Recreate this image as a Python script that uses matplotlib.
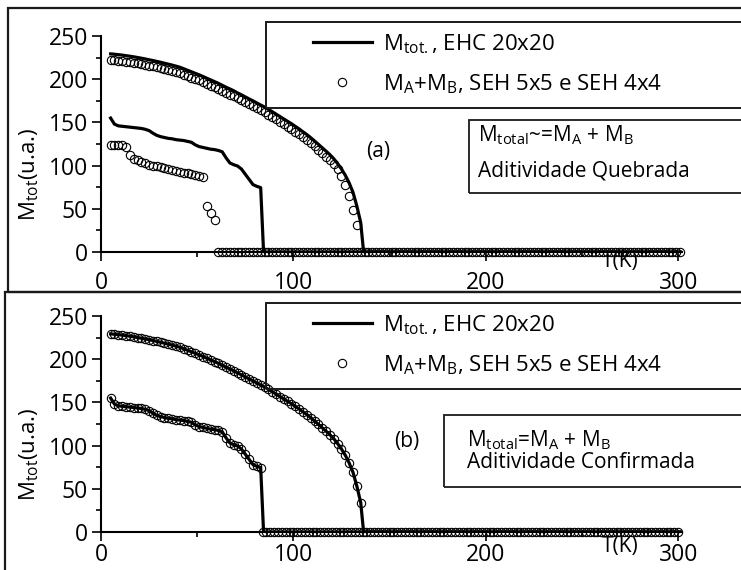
import numpy as np
import matplotlib.pyplot as plt
from matplotlib.lines import Line2D
from matplotlib.patches import Rectangle

plt.rcParams['font.family'] = 'Open Sans'
plt.rcParams['mathtext.fontset'] = 'custom'
plt.rcParams['mathtext.rm'] = 'Open Sans'
plt.rcParams['mathtext.default'] = 'regular'

# temperature sweeps (K)
t_hi = np.arange(5, 137, 2)       # 5 .. 135
t_lo = np.arange(5, 85, 2)        # 5 .. 83
t_hi_a = np.arange(5, 135, 2)     # 5 .. 133
t_lo_a = np.arange(5, 61, 2)      # 5 .. 59
t_end = 301
tc_hi = 136.5
tc_lo = 84.5

# M_tot, EHC 20x20 (upper and lower branch)
m_hi = [229.3, 228.9, 228.4, 227.9, 227.2, 226.6, 225.9, 225.1, 224.3, 223.4,
        222.5, 221.6, 220.6, 219.6, 218.5, 217.4, 216.3, 215.1, 213.8, 212.1,
        210.3, 208.6, 206.8, 205.1, 203.1, 201.1, 199.2, 197.2, 195.2, 193.0,
        190.7, 188.7, 186.6, 184.1, 181.9, 179.5, 177.2, 174.9, 172.5, 170.1,
        167.8, 165.1, 162.4, 159.6, 156.8, 154.0, 151.2, 148.5, 145.4, 142.4,
        139.1, 135.9, 132.3, 128.5, 124.6, 120.6, 116.7, 112.6, 107.9, 102.3,
        96.0, 88.8, 79.9, 69.0, 53.0, 34.0]
m_lo = [155, 148, 146, 145.5, 145, 144.5, 144, 143.5, 143, 142,
        140.5, 137.5, 135, 133.5, 132.5, 131.5, 131, 130, 129.5, 129,
        128, 127, 124, 122, 121, 120, 119, 118.5, 117.5, 116,
        109, 103, 101, 99.5, 96, 90, 84, 78, 76, 74.5]

# M_A + M_B, SEH 5x5 e SEH 4x4 for the broken-additivity case
m_hi_a = [222.3, 221.9, 221.5, 221.0, 220.3, 219.7, 219.0, 218.2, 217.5, 216.6,
          215.7, 214.8, 213.8, 212.8, 211.8, 210.7, 209.6, 208.2, 207.1, 205.4,
          203.6, 201.9, 200.2, 198.5, 196.5, 194.5, 192.6, 190.6, 188.6, 186.5,
          184.2, 182.2, 180.2, 177.7, 175.5, 173.1, 170.8, 168.6, 166.2, 163.8,
          161.6, 158.9, 156.2, 153.5, 150.6, 147.9, 145.1, 142.4, 139.3, 136.4,
          133.1, 129.7, 125.8, 122.3, 118.5, 114.4, 110.4, 106.2, 101.4, 95.6,
          88.0, 78.0, 65.0, 49.0, 31.0]
m_lo_a = [124, 124, 124, 123.5, 122, 112, 108, 106, 104, 102.5,
          101, 100, 99, 98, 97, 96, 95, 94, 93, 92,
          91, 90, 89, 88, 87, 53, 45, 37]

W, H = 741, 570
fig = plt.figure(figsize=(W / 100, H / 100), dpi=100)


def fig_rect(x0, y0, x1, y1):
    return [x0 / W, 1 - y1 / H, (x1 - x0) / W, (y1 - y0) / H]


def frame(x0, y0, x1, y1, lw=1.6):
    fig.add_artist(Rectangle((x0 / W, 1 - y1 / H), (x1 - x0) / W, (y1 - y0) / H,
                             transform=fig.transFigure, fill=False,
                             lw=lw, ec='#1a1a1a'))


line_kw = dict(color='black', lw=2.3, solid_joinstyle='round')
circ_kw = dict(ls='none', marker='o', ms=6.0, mfc='none', mec='black', mew=0.8,
               clip_on=False)


def with_drop(t, m, tc):
    tt = np.concatenate([t, [tc, t_end]])
    mm = np.concatenate([m, [0, 0]])
    return tt, mm


def style_axes(ax, tk_y, xpad):
    ax.set_xlim(0, 302)
    ax.set_ylim(0, 250)
    for s in ['top', 'right']:
        ax.spines[s].set_visible(False)
    ax.spines['left'].set_linewidth(1.5)
    ax.spines['bottom'].set_linewidth(1.5)
    ax.set_xticks([0, 100, 200, 300])
    ax.set_xticks([50, 150, 250], minor=True)
    ax.set_yticks(np.arange(0, 251, 50))
    ax.set_yticks(np.arange(25, 250, 50), minor=True)
    ax.tick_params(which='major', length=6.5, width=1.2, labelsize=16.5, pad=3)
    ax.tick_params(which='minor', length=3.6, width=1.2)
    ax.tick_params(axis='x', which='major', pad=xpad)
    ax.patch.set_alpha(0)
    ax.set_ylabel('M$_{tot}$(u.a.)', fontsize=16)
    ax.yaxis.set_label_coords(-0.104, 0.36)
    ax.text(0.893, tk_y, 'T(K)', transform=ax.transAxes, fontsize=15,
            ha='center', va='center')


def legend_box(ax, top):
    frame(266, top, 800, top + 86, lw=1.4)
    handles = [Line2D([], [], **line_kw),
               Line2D([], [], **{k: v for k, v in circ_kw.items() if k != 'clip_on'})]
    labels = ['M$_{tot.}$, EHC 20x20', 'M$_{A}$+M$_{B}$, SEH 5x5 e SEH 4x4']
    ax.legend(handles, labels, loc='upper left',
              bbox_to_anchor=(313 / W, 1 - (top + 10) / H),
              bbox_transform=fig.transFigure, frameon=False, borderpad=0,
              borderaxespad=0, handlelength=2.65, handletextpad=0.5,
              labelspacing=0.75, fontsize=16)


# outer panel frames
frame(8, 8, 800, 292)
frame(5, 292, 800, 620)

# (a) additivity broken
ax_a = fig.add_axes(fig_rect(101, 36, 682, 252))
style_axes(ax_a, -0.044, 7)
ax_a.plot(*with_drop(t_hi, m_hi, tc_hi), **line_kw)
ax_a.plot(*with_drop(t_lo, m_lo, tc_lo), **line_kw)
ax_a.plot(t_hi_a, m_hi_a, **circ_kw)
ax_a.plot(t_lo_a, m_lo_a, **circ_kw)
t_zero_a = np.arange(61, t_end + 1, 2)
ax_a.plot(t_zero_a, np.zeros(len(t_zero_a)), **circ_kw)
legend_box(ax_a, 22)
ax_a.text(144, 116, '(a)', fontsize=15, ha='center', va='center')
frame(469, 120, 800, 193, lw=1.3)
fig.text(478 / W, 1 - 135 / H, 'M$_{total}$~=M$_{A}$ + M$_{B}$', fontsize=15, va='center')
fig.text(478 / W, 1 - 171 / H, 'Aditividade Quebrada', fontsize=15, va='center')

# (b) additivity confirmed
ax_b = fig.add_axes(fig_rect(101, 316, 682, 532))
style_axes(ax_b, -0.065, 1.5)
ax_b.plot(*with_drop(t_hi, m_hi, tc_hi), **line_kw)
ax_b.plot(*with_drop(t_lo, m_lo, tc_lo), **line_kw)
ax_b.plot(t_hi, m_hi, **circ_kw)
ax_b.plot(t_lo, m_lo, **circ_kw)
t_zero_b = np.arange(84, t_end + 1, 2)
ax_b.plot(t_zero_b, np.zeros(len(t_zero_b)), **circ_kw)
legend_box(ax_b, 303)
ax_b.text(159, 105, '(b)', fontsize=15, ha='center', va='center')
frame(444, 415, 800, 487, lw=1.3)
fig.text(467 / W, 1 - 440 / H, 'M$_{total}$=M$_{A}$ + M$_{B}$', fontsize=15, va='center')
fig.text(467 / W, 1 - 463 / H, 'Aditividade Confirmada', fontsize=15, va='center')

fig.savefig('out.png', dpi=100)
